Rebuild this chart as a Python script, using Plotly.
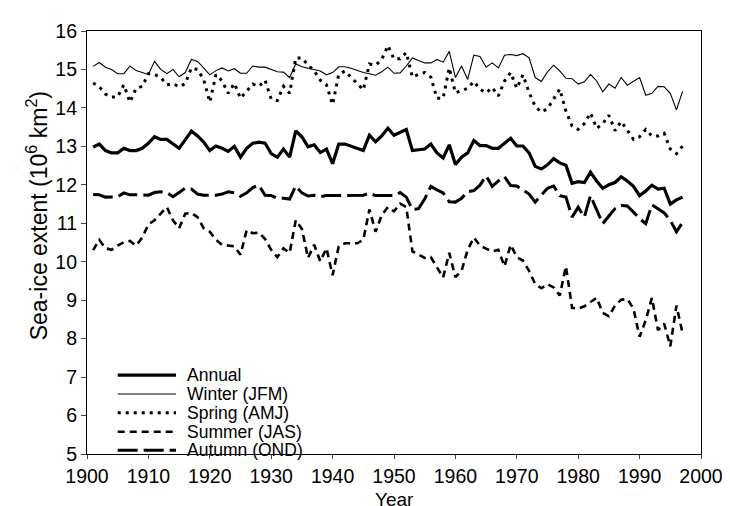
import plotly.graph_objects as go

years = list(range(1901, 1998))

annual = [12.98, 13.06, 12.89, 12.83, 12.83, 12.95, 12.89, 12.89, 12.95, 13.08,
          13.25, 13.18, 13.18, 13.06, 12.95, 13.17, 13.40, 13.27, 13.11, 12.89,
          13.01, 12.95, 12.87, 13.00, 12.72, 12.95, 13.08, 13.11, 13.08, 12.81,
          12.72, 12.93, 12.72, 13.40, 13.25, 12.99, 13.04, 12.84, 12.93, 12.55,
          13.06, 13.06, 13.00, 12.95, 12.89, 13.29, 13.12, 13.27, 13.47, 13.29,
          13.36, 13.44, 12.89, 12.91, 12.93, 13.06, 12.83, 12.70, 13.04, 12.53,
          12.72, 12.83, 13.15, 13.02, 13.02, 12.95, 12.95, 13.08, 13.21, 13.01,
          13.01, 12.83, 12.48, 12.41, 12.52, 12.68, 12.57, 12.51, 12.04, 12.08,
          12.06, 12.33, 12.10, 11.91, 12.00, 12.06, 12.21, 12.10, 11.96, 11.72,
          11.84, 11.99, 11.89, 11.91, 11.50, 11.61, 11.68]

winter = [15.08, 15.18, 15.06, 15.00, 14.89, 14.89, 15.09, 14.97, 14.92, 14.87,
          15.21, 15.00, 14.89, 15.00, 14.81, 14.92, 15.26, 15.21, 15.04, 14.86,
          14.97, 15.04, 14.96, 15.02, 14.90, 14.90, 15.09, 15.06, 15.06, 15.00,
          14.94, 14.93, 14.79, 15.15, 15.07, 15.03, 14.99, 14.96, 14.86, 14.92,
          15.07, 15.07, 15.03, 14.97, 14.92, 14.89, 14.85, 14.94, 15.06, 14.90,
          14.91, 15.09, 15.30, 15.23, 15.17, 15.17, 15.26, 15.19, 15.47, 14.79,
          15.09, 14.74, 15.37, 15.34, 15.06, 15.17, 15.04, 15.37, 15.39, 15.36,
          15.41, 15.30, 14.79, 14.69, 14.94, 15.11, 14.96, 14.77, 14.76, 14.62,
          14.68, 14.87, 14.70, 14.42, 14.62, 14.51, 14.79, 14.59, 14.70, 14.79,
          14.33, 14.38, 14.56, 14.55, 14.38, 13.95, 14.43]

spring = [14.65, 14.55, 14.36, 14.28, 14.29, 14.60, 14.15, 14.51, 14.56, 14.89,
          14.87, 14.79, 14.60, 14.63, 14.55, 14.63, 15.04, 15.00, 14.74, 14.15,
          14.87, 14.70, 14.38, 14.64, 14.25, 14.45, 14.62, 14.56, 14.72, 14.23,
          14.19, 14.56, 14.38, 15.30, 15.30, 15.12, 14.96, 14.72, 14.60, 14.09,
          14.87, 14.96, 14.79, 14.62, 14.47, 15.14, 15.11, 15.26, 15.62, 15.27,
          15.28, 15.44, 14.80, 14.87, 14.92, 14.80, 14.25, 14.25, 15.04, 14.39,
          14.46, 14.51, 14.69, 14.49, 14.39, 14.53, 14.31, 14.70, 14.92, 14.51,
          14.86, 14.40, 14.04, 13.89, 13.98, 14.23, 14.49, 13.92, 13.53, 13.44,
          13.59, 13.87, 13.47, 13.59, 13.81, 13.41, 13.65, 13.42, 13.18, 13.25,
          13.44, 13.27, 13.27, 13.34, 12.93, 12.81, 13.01]

summer = [10.30, 10.57, 10.35, 10.31, 10.42, 10.51, 10.54, 10.42, 10.63, 10.97,
          11.08, 11.25, 11.42, 11.08, 10.87, 11.25, 11.27, 11.16, 10.87, 10.78,
          10.57, 10.44, 10.41, 10.40, 10.18, 10.82, 10.74, 10.76, 10.59, 10.31,
          10.12, 10.35, 10.23, 11.08, 10.85, 10.10, 10.44, 10.01, 10.35, 9.65,
          10.40, 10.48, 10.48, 10.48, 10.57, 11.36, 10.78, 11.21, 11.42, 11.31,
          11.51, 11.42, 10.27, 10.18, 10.10, 10.12, 9.84, 9.59, 10.23, 9.60,
          9.76, 10.31, 10.63, 10.42, 10.34, 10.27, 10.31, 9.88, 10.44, 10.12,
          10.03, 9.76, 9.42, 9.31, 9.42, 9.33, 9.12, 9.88, 8.80, 8.78,
          8.84, 8.95, 9.06, 8.67, 8.58, 8.86, 9.01, 9.03, 8.78, 8.05,
          8.48, 9.06, 8.22, 8.39, 7.80, 8.86, 8.14]

autumn = [11.75, 11.74, 11.68, 11.68, 11.69, 11.79, 11.74, 11.74, 11.74, 11.73,
          11.80, 11.82, 11.80, 11.69, 11.80, 11.91, 11.89, 11.76, 11.73, 11.73,
          11.73, 11.76, 11.82, 11.79, 11.70, 11.79, 11.93, 11.99, 11.73, 11.72,
          11.65, 11.65, 11.63, 11.97, 11.79, 11.71, 11.73, 11.69, 11.72, 11.72,
          11.72, 11.72, 11.72, 11.72, 11.73, 11.78, 11.72, 11.72, 11.72, 11.72,
          11.80, 11.68, 11.36, 11.38, 11.63, 11.96, 11.87, 11.79, 11.56, 11.55,
          11.65, 11.82, 11.85, 11.99, 12.23, 11.96, 12.10, 12.21, 11.98, 11.97,
          11.87, 11.76, 11.55, 11.73, 11.91, 11.97, 11.72, 11.68, 11.16, 11.42,
          11.16, 11.72, 11.33, 10.99, 11.19, 11.38, 11.46, 11.45, 11.29, 11.12,
          10.99, 11.48, 11.38, 11.27, 11.08, 10.78, 11.02]

series_names = ["Annual", "Winter (JFM)", "Spring (AMJ)", "Summer (JAS)", "Autumn (OND)"]
x_ticks = list(range(1900, 2001, 10))
y_ticks = list(range(5, 17))
y_title = "Sea-ice extent (10<sup>6</sup> km<sup>2</sup>)"
x_title = "Year"

styles = [
    dict(color="black", width=3.2, dash="solid"),
    dict(color="black", width=1.1, dash="solid"),
    dict(color="black", width=3, dash="3px,5px"),
    dict(color="black", width=2.6, dash="7px,5px"),
    dict(color="black", width=3, dash="20px,6px"),
]
values = [annual, winter, spring, summer, autumn]

fig = go.Figure()
for name, vals, line in zip(series_names, values, styles):
    fig.add_trace(go.Scatter(x=years, y=vals, mode="lines", name=name, line=line,
                             showlegend=False))

# Hand-built legend (placed in axis units, bottom-left of the plot)
leg_x0, leg_x1, leg_tx = 1905, 1914.5, 1916
leg_rows = [7.05, 6.56, 6.07, 5.58, 5.10]
for name, line, yv in zip(series_names, styles, leg_rows):
    fig.add_shape(type="line", xref="x", yref="y", x0=leg_x0, x1=leg_x1, y0=yv, y1=yv,
                  line=line)
    fig.add_annotation(x=leg_tx, y=yv, xref="x", yref="y", text=name, showarrow=False,
                       xanchor="left", yanchor="middle", font=dict(size=17.5))

# axis titles (the y title sits a little above the middle of the axis, as in the original)
fig.add_annotation(x=-0.08, y=0.564, xref="paper", yref="paper", text=y_title,
                   textangle=-90, showarrow=False, xanchor="center", yanchor="middle",
                   font=dict(size=23))
fig.add_annotation(x=0.5, y=-0.1372, xref="paper", yref="paper", text=x_title,
                   showarrow=False, xanchor="center", yanchor="bottom",
                   font=dict(size=19))

font_family = "Liberation Sans, Arial, sans-serif"
fig.update_layout(
    width=730, height=506,
    margin=dict(l=79, r=37, t=16, b=60),
    plot_bgcolor="white", paper_bgcolor="white",
    font=dict(family=font_family, size=19.5, color="black"),
    showlegend=False,
    xaxis=dict(range=[1900, 2000], tickvals=x_ticks, ticks="outside", ticklen=4,
               showline=True, linecolor="black", linewidth=1.2, mirror=True,
               showgrid=False, zeroline=False),
    yaxis=dict(range=[5, 16], tickvals=y_ticks, ticks="outside", ticklen=5,
               showline=True, linecolor="black", linewidth=1.2, mirror=True,
               showgrid=False, zeroline=False),
)

fig.write_html("out.html")
